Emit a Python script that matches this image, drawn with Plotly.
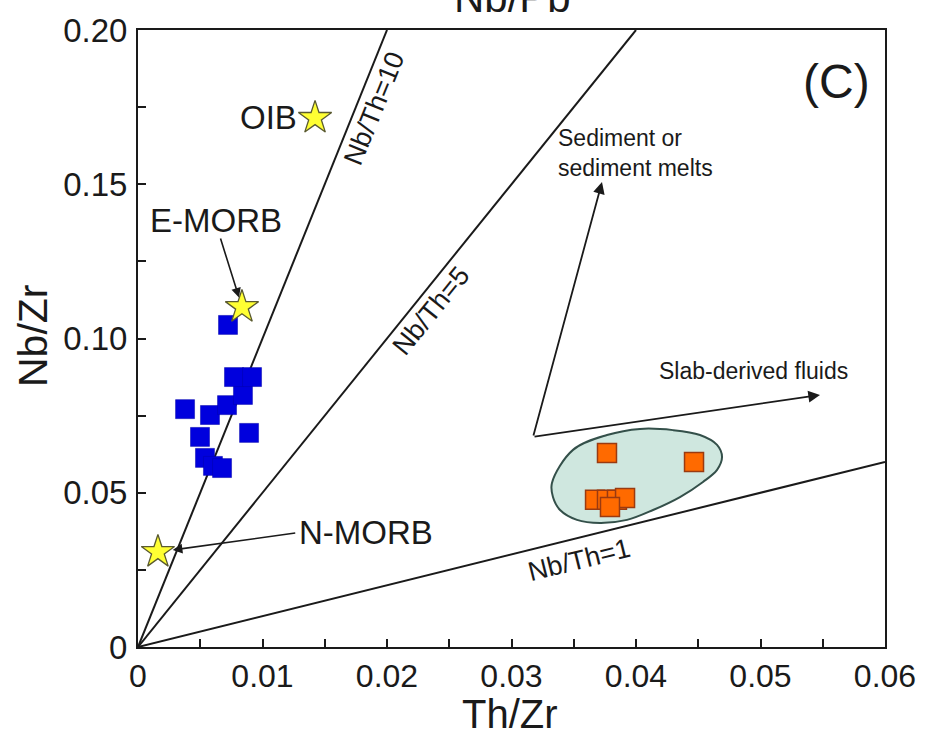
import math
import plotly.graph_objects as go

# ---- data -------------------------------------------------------------
# Sample groups (Th/Zr, Nb/Zr)
blue_th_zr = [0.00723, 0.00378, 0.00578, 0.00715, 0.00843, 0.00771, 0.00916,
              0.00892, 0.00498, 0.00538, 0.00602, 0.00675]
blue_nb_zr = [0.1044, 0.0771, 0.0752, 0.0784, 0.0817, 0.0875, 0.0875,
              0.0694, 0.0681, 0.0613, 0.0587, 0.0580]

orange_th_zr = [0.03767, 0.04466, 0.03671, 0.03767, 0.03847, 0.03912, 0.03791]
orange_nb_zr = [0.0629, 0.0600, 0.0477, 0.0477, 0.0477, 0.0483, 0.0454]

# Reference compositions
ref_names = ["OIB", "E-MORB", "N-MORB"]
ref_th_zr = [0.01422, 0.00835, 0.0016]
ref_nb_zr = [0.1715, 0.1102, 0.0308]

# Constant Nb/Th reference lines
nb_th_ratios = [10, 5, 1]
nb_th_labels = ["Nb/Th=10", "Nb/Th=5", "Nb/Th=1"]
nb_th_label_x = [0.01896, 0.02353, 0.03542]
nb_th_label_y = [0.1744, 0.1089, 0.0282]

# Outline of the field enclosing the orange group
field_x = [0.03325, 0.03494, 0.03767, 0.04032, 0.04297, 0.04514, 0.04651, 0.04691,
           0.04651, 0.04538, 0.04353, 0.04137, 0.03928, 0.03711, 0.03526, 0.03390,
           0.03333, 0.03325]
field_y = [0.0532, 0.0639, 0.0687, 0.0707, 0.0703, 0.0687, 0.0655, 0.0616,
           0.0574, 0.0535, 0.0486, 0.0444, 0.0412, 0.0402, 0.0412, 0.0444,
           0.0486, 0.0532]

# Trend arrows: common origin and two tips
trend_origin = (0.03173, 0.0681)
trend_sediment_tip = (0.03727, 0.1507)
trend_fluid_tip = (0.05478, 0.0817)

x_ticks = [0, 0.01, 0.02, 0.03, 0.04, 0.05, 0.06]
x_tick_text = ["0", "0.01", "0.02", "0.03", "0.04", "0.05", "0.06"]
y_ticks = [0, 0.05, 0.10, 0.15, 0.20]
y_tick_text = ["0", "0.05", "0.10", "0.15", "0.20"]

X_MAX, Y_MAX = 0.06, 0.20

# ---- layout geometry --------------------------------------------------
W, H = 929, 735
ML, MR, MT, MB = 138, 44, 30, 88
PW, PH = W - ML - MR, H - MT - MB

FONT = "Liberation Sans, Arial, sans-serif"
INK = "#1a1a1a"


def px_x(px):
    """Horizontal page pixel -> paper fraction."""
    return (px - ML) / PW


def px_y(py):
    """Vertical page pixel -> paper fraction."""
    return (MT + PH - py) / PH


fig = go.Figure()

# Nb/Th lines from the origin to the frame
for r in nb_th_ratios:
    x_end = min(X_MAX, Y_MAX / r)
    fig.add_trace(go.Scatter(x=[0, x_end], y=[0, r * x_end], mode="lines",
                             line=dict(color=INK, width=2), hoverinfo="skip",
                             showlegend=False))

# Field outline
fig.add_trace(go.Scatter(x=field_x, y=field_y, mode="lines", fill="toself",
                         fillcolor="#cfe7df", line=dict(color="#34504a", width=2,
                                                        shape="spline", smoothing=1.0),
                         hoverinfo="skip", showlegend=False))

# Trend arrows
for tip in (trend_sediment_tip, trend_fluid_tip):
    fig.add_annotation(x=tip[0], y=tip[1], ax=trend_origin[0], ay=trend_origin[1],
                       xref="x", yref="y", axref="x", ayref="y", text="",
                       showarrow=True, arrowhead=2, arrowsize=1.3, arrowwidth=1.8,
                       arrowcolor=INK, standoff=0)

# Samples
fig.add_trace(go.Scatter(x=blue_th_zr, y=blue_nb_zr, mode="markers",
                         marker=dict(symbol="square", size=19, color="#0000dd",
                                     line=dict(color="#0000aa", width=0.5)),
                         showlegend=False))
fig.add_trace(go.Scatter(x=orange_th_zr, y=orange_nb_zr, mode="markers",
                         marker=dict(symbol="square", size=19, color="#ff6a00",
                                     line=dict(color="#9a3a10", width=1.5)),
                         showlegend=False))

# Reference stars
fig.add_trace(go.Scatter(x=ref_th_zr, y=ref_nb_zr, mode="markers",
                         marker=dict(symbol="star", size=25, color="#ffff33",
                                     line=dict(color="#5a5a30", width=1.3)),
                         showlegend=False))

LABEL_FONT = dict(family=FONT, size=33, color=INK)

# Reference labels
fig.add_annotation(x=ref_th_zr[0], y=ref_nb_zr[0], text=ref_names[0], showarrow=False,
                   xanchor="right", yanchor="middle", xshift=-16, yshift=0,
                   font=LABEL_FONT)
fig.add_annotation(x=ref_th_zr[1], y=ref_nb_zr[1], ax=0.00659, ay=0.1329,
                   xref="x", yref="y", axref="x", ayref="y", text="",
                   showarrow=True, arrowhead=2, arrowsize=1.2, arrowwidth=1.6,
                   arrowcolor=INK, standoff=10)
fig.add_annotation(x=0.00627, y=0.1384, text=ref_names[1], showarrow=False,
                   xanchor="center", yanchor="middle", font=LABEL_FONT)
fig.add_annotation(x=ref_th_zr[2], y=ref_nb_zr[2], ax=0.01275, ay=0.0370,
                   xref="x", yref="y", axref="x", ayref="y", text="",
                   showarrow=True, arrowhead=2, arrowsize=1.2, arrowwidth=1.6,
                   arrowcolor=INK, standoff=15)
fig.add_annotation(x=0.01275, y=0.0370, text=ref_names[2], showarrow=False,
                   xanchor="left", yanchor="middle", font=LABEL_FONT)

# Line labels, rotated along each line
px_per_x = PW / X_MAX
px_per_y = PH / Y_MAX
for r, lab, lx, ly in zip(nb_th_ratios, nb_th_labels, nb_th_label_x, nb_th_label_y):
    ang = math.degrees(math.atan(r * px_per_y / px_per_x))
    fig.add_annotation(x=lx, y=ly, text=lab, showarrow=False, textangle=-ang,
                       xanchor="center", yanchor="middle",
                       font=dict(family=FONT, size=27, color=INK))

# Trend labels
fig.add_annotation(x=0.03358, y=0.1601, text="Sediment or<br>sediment melts",
                   showarrow=False, xanchor="left", yanchor="middle", align="left",
                   font=dict(family=FONT, size=23, color=INK))
fig.add_annotation(x=0.04169, y=0.0894, text="Slab-derived fluids",
                   showarrow=False, xanchor="left", yanchor="middle",
                   font=dict(family=FONT, size=23, color=INK))

# Panel letter
fig.add_annotation(x=px_x(836), y=px_y(81), xref="paper", yref="paper", text="(C)",
                   xanchor="center", yanchor="middle", showarrow=False,
                   font=dict(family=FONT, size=48, color=INK))

# Axis titles
fig.add_annotation(x=px_x(510), y=px_y(714), xref="paper", yref="paper",
                   text="Th/Zr", showarrow=False, xanchor="center", yanchor="middle",
                   font=dict(family=FONT, size=40, color=INK))
fig.add_annotation(x=px_x(33), y=px_y(336), xref="paper", yref="paper",
                   text="Nb/Zr", showarrow=False, textangle=-90,
                   xanchor="center", yanchor="middle",
                   font=dict(family=FONT, size=41, color=INK))
# Top title (partly outside the page)
fig.add_annotation(x=px_x(512), y=px_y(23), xref="paper", yref="paper",
                   text="Nb/Pb", showarrow=False, xanchor="center", yanchor="bottom",
                   font=dict(family=FONT, size=42, color=INK))

axis_common = dict(showgrid=False, zeroline=False, showline=True, linecolor=INK,
                   linewidth=2, mirror=True, ticks="inside", ticklen=8,
                   tickwidth=1.5, tickcolor=INK)

fig.update_layout(
    width=W, height=H,
    margin=dict(l=ML, r=MR, t=MT, b=MB),
    paper_bgcolor="white", plot_bgcolor="white",
    xaxis=dict(range=[0, X_MAX], tickvals=x_ticks, ticktext=x_tick_text,
               tickfont=dict(family=FONT, size=32, color=INK),
               minor=dict(dtick=0.005, ticks="inside", ticklen=8, tickwidth=1.5,
                          tickcolor=INK),
               ticklabelstandoff=0, **axis_common),
    yaxis=dict(range=[0, Y_MAX], tickvals=y_ticks, ticktext=y_tick_text,
               tickfont=dict(family=FONT, size=33, color=INK),
               minor=dict(dtick=0.025, ticks="inside", ticklen=8, tickwidth=1.5,
                          tickcolor=INK),
               ticklabelstandoff=2, **axis_common),
)

fig.write_html("out.html")
